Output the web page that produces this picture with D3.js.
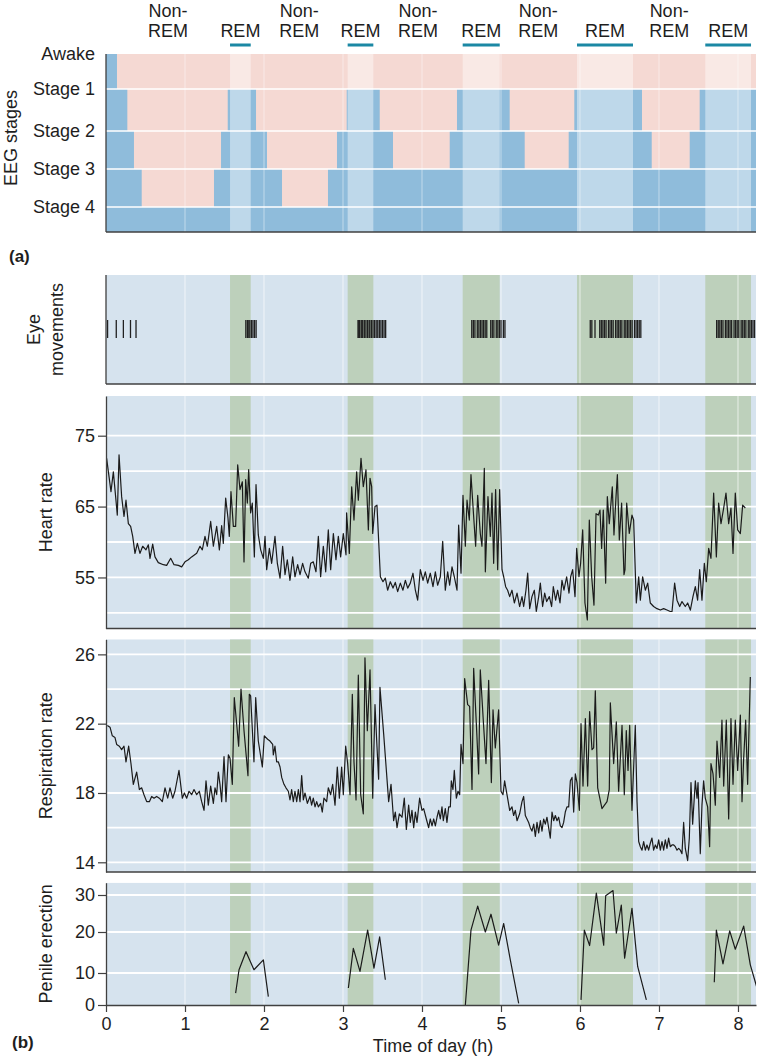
<!DOCTYPE html>
<html><head><meta charset="utf-8">
<script src="https://cdn.jsdelivr.net/npm/d3@7"></script>
<style>
body{margin:0;background:#fff}
svg{display:block}
text{font-family:"Liberation Sans",Arial,Helvetica,sans-serif;fill:#1e1e1e}
</style>
</head><body>
<svg id="c" width="757" height="1057"></svg>
<script>
// ---------------- DATA ----------------
const hourTicks = [0,1,2,3,4,5,6,7,8];
const timeEnd = 8.228;
const stageLabels = ["Awake","Stage 1","Stage 2","Stage 3","Stage 4"];
// [start hour, stage index] (0 = Awake ... 4 = Stage 4)
const hypnogram = [[0,0],[0.139,1],[0.270,2],[0.354,3],[0.452,4],[1.367,3],[1.456,2],[1.541,1],[1.899,2],[2.038,3],[2.228,4],[2.810,3],[2.924,2],[3.047,1],[3.465,2],[3.633,3],[4.351,2],[4.443,1],[5.110,2],[5.300,3],[5.857,2],[5.928,1],[6.785,2],[6.908,3],[7.389,2],[7.515,1]];
const remPeriods = [[1.570,1.832],[3.059,3.384],[4.515,4.984],[5.962,6.671],[7.586,8.165]];
const eyeMovements = [0.02,0.13,0.22,0.31,0.38,
 1.77,1.79,1.80,1.82,1.84,1.86,1.88,1.90,
 3.19,3.20,3.21,3.23,3.24,3.25,3.27,3.29,3.31,3.33,3.34,3.36,3.38,3.40,3.42,3.44,3.46,3.48,3.50,3.52,3.54,
 4.63,4.65,4.67,4.70,4.72,4.74,4.76,4.78,4.80,4.82,4.87,4.89,4.91,4.94,4.96,4.98,5.00,5.03,5.05,
 6.13,6.15,6.19,6.25,6.27,6.29,6.31,6.33,6.36,6.38,6.40,6.42,6.45,6.47,6.49,6.51,6.53,6.56,6.58,6.60,6.62,6.64,6.66,6.69,6.71,6.73,6.75,6.77,
 7.73,7.75,7.77,7.79,7.81,7.84,7.86,7.88,7.90,7.92,7.95,7.97,7.99,8.01,8.04,8.06,8.08,8.10,8.13,8.15,8.17,8.19,8.21];
const heartRate = [[0.008,71.8],[0.063,67.1],[0.093,69.9],[0.122,66.4],[0.143,63.8],[0.165,72.3],[0.198,66.4],[0.228,63.6],[0.253,65.9],[0.283,62.6],[0.312,62.2],[0.338,60.8],[0.367,58.4],[0.397,59.8],[0.430,58.4],[0.464,59.4],[0.506,58.9],[0.536,59.6],[0.557,57.7],[0.591,59.7],[0.620,57.9],[0.662,57.1],[0.726,56.8],[0.768,56.7],[0.819,57.7],[0.861,56.8],[0.916,56.7],[0.958,56.5],[1.000,57.2],[1.042,57.5],[1.084,57.9],[1.148,58.4],[1.190,59.4],[1.219,58.9],[1.253,60.8],[1.283,59.4],[1.325,62.9],[1.359,59.4],[1.401,62.2],[1.435,58.9],[1.464,62.3],[1.485,59.8],[1.515,66.2],[1.544,63.4],[1.561,60.8],[1.582,67.1],[1.612,62.2],[1.641,62.2],[1.667,70.9],[1.696,67.4],[1.726,68.5],[1.747,57.2],[1.768,68.8],[1.789,65.5],[1.806,70.2],[1.831,64.1],[1.852,65.5],[1.878,57.9],[1.899,68.1],[1.928,61.0],[1.958,58.9],[1.992,57.7],[2.013,60.8],[2.034,56.1],[2.068,59.1],[2.097,57.0],[2.139,60.8],[2.169,57.0],[2.203,54.9],[2.236,59.4],[2.266,55.4],[2.295,57.5],[2.329,54.6],[2.363,57.9],[2.392,55.1],[2.426,56.8],[2.456,55.4],[2.489,57.0],[2.519,55.8],[2.561,54.9],[2.591,57.0],[2.624,57.2],[2.658,55.8],[2.688,60.8],[2.717,55.1],[2.751,59.4],[2.781,55.8],[2.814,61.7],[2.844,56.1],[2.878,61.2],[2.911,57.5],[2.941,60.8],[2.970,57.9],[3.004,61.2],[3.038,58.2],[3.046,64.1],[3.080,58.4],[3.110,67.8],[3.139,63.1],[3.173,69.9],[3.194,65.9],[3.228,71.8],[3.257,67.8],[3.291,70.2],[3.321,61.7],[3.342,69.0],[3.363,67.8],[3.376,61.2],[3.405,65.0],[3.430,65.2],[3.473,55.1],[3.506,54.4],[3.536,54.9],[3.565,53.2],[3.599,54.4],[3.633,53.5],[3.662,54.3],[3.692,53.0],[3.726,54.2],[3.759,53.2],[3.789,54.6],[3.819,53.5],[3.852,54.2],[3.886,55.6],[3.916,53.2],[3.945,51.8],[3.979,56.1],[4.013,54.6],[4.042,55.8],[4.072,54.2],[4.105,55.6],[4.139,53.7],[4.169,55.8],[4.198,53.9],[4.232,55.1],[4.262,60.1],[4.295,53.2],[4.325,55.8],[4.350,53.9],[4.380,56.5],[4.409,55.1],[4.443,53.2],[4.464,62.4],[4.494,55.6],[4.519,66.6],[4.549,59.4],[4.570,65.9],[4.599,63.1],[4.620,69.5],[4.654,63.6],[4.679,59.4],[4.705,66.6],[4.738,61.2],[4.759,59.4],[4.789,70.4],[4.802,55.8],[4.835,66.4],[4.865,60.8],[4.886,66.9],[4.907,57.0],[4.932,67.4],[4.958,56.1],[4.983,67.4],[5.013,56.1],[5.034,55.1],[5.059,53.7],[5.084,53.2],[5.110,52.3],[5.139,53.2],[5.169,51.4],[5.203,52.8],[5.236,50.9],[5.266,52.3],[5.287,50.9],[5.316,53.2],[5.338,55.6],[5.363,50.6],[5.392,52.3],[5.422,53.2],[5.447,50.2],[5.477,52.3],[5.498,54.2],[5.527,50.9],[5.553,52.8],[5.578,51.6],[5.612,52.3],[5.641,50.9],[5.662,53.7],[5.692,51.8],[5.717,53.2],[5.747,51.4],[5.772,54.6],[5.797,53.2],[5.831,55.1],[5.861,52.8],[5.882,55.1],[5.907,56.1],[5.937,52.3],[5.958,59.1],[5.987,55.1],[6.008,57.0],[6.034,61.7],[6.063,51.4],[6.093,49.0],[6.118,63.1],[6.148,55.1],[6.177,51.1],[6.203,64.0],[6.232,63.8],[6.253,64.5],[6.274,59.1],[6.295,64.5],[6.325,54.2],[6.346,66.4],[6.371,62.6],[6.409,67.8],[6.430,61.0],[6.456,66.4],[6.473,69.5],[6.498,60.3],[6.527,65.5],[6.557,55.4],[6.570,56.1],[6.591,65.5],[6.624,61.2],[6.658,63.8],[6.679,63.1],[6.713,51.4],[6.743,55.1],[6.764,51.8],[6.793,55.1],[6.827,53.2],[6.857,54.2],[6.890,51.4],[6.932,50.9],[6.975,50.6],[7.017,50.4],[7.059,50.6],[7.101,50.4],[7.143,50.2],[7.165,50.2],[7.198,54.2],[7.228,51.8],[7.262,50.9],[7.291,51.6],[7.333,50.9],[7.363,51.4],[7.397,50.4],[7.430,52.3],[7.460,53.7],[7.489,51.8],[7.515,56.1],[7.544,51.8],[7.574,57.0],[7.599,54.4],[7.629,59.1],[7.658,57.7],[7.692,66.9],[7.726,57.9],[7.755,65.5],[7.785,62.6],[7.819,64.8],[7.848,66.9],[7.882,62.6],[7.911,64.8],[7.937,58.4],[7.966,66.9],[7.996,61.7],[8.030,61.2],[8.059,65.2],[8.093,64.8]];
const respiration = [[0.017,21.9],[0.051,21.8],[0.080,21.3],[0.114,21.2],[0.135,20.8],[0.169,20.7],[0.198,20.5],[0.228,20.7],[0.253,19.8],[0.287,20.7],[0.316,19.7],[0.346,18.5],[0.388,19.2],[0.422,18.2],[0.451,18.3],[0.481,17.9],[0.515,17.5],[0.549,17.5],[0.578,17.8],[0.608,17.7],[0.641,17.8],[0.675,17.7],[0.713,17.5],[0.747,18.3],[0.781,17.7],[0.810,18.3],[0.844,17.7],[0.873,18.1],[0.924,19.3],[0.966,17.7],[0.992,18.0],[1.021,17.7],[1.051,18.1],[1.084,17.9],[1.114,18.2],[1.148,17.9],[1.181,18.1],[1.211,17.5],[1.241,17.0],[1.266,18.7],[1.295,17.3],[1.325,18.4],[1.359,17.4],[1.380,18.3],[1.401,17.9],[1.422,19.2],[1.443,18.5],[1.464,17.5],[1.494,20.1],[1.519,17.5],[1.549,20.2],[1.570,20.0],[1.599,18.5],[1.624,23.5],[1.654,22.0],[1.679,20.7],[1.709,24.0],[1.747,21.6],[1.797,19.0],[1.814,23.7],[1.831,23.6],[1.873,19.8],[1.895,23.5],[1.928,21.0],[1.979,19.5],[2.004,21.3],[2.046,21.1],[2.076,21.0],[2.110,20.8],[2.118,20.2],[2.139,20.7],[2.160,19.8],[2.181,19.8],[2.203,19.5],[2.224,18.9],[2.253,18.5],[2.278,18.3],[2.308,18.1],[2.329,17.6],[2.350,18.2],[2.371,17.5],[2.392,18.1],[2.414,17.5],[2.435,18.2],[2.456,17.5],[2.477,19.0],[2.498,17.6],[2.519,18.0],[2.549,17.4],[2.582,17.8],[2.603,17.3],[2.624,17.7],[2.646,17.2],[2.667,17.5],[2.688,17.2],[2.717,17.4],[2.738,16.9],[2.759,17.7],[2.793,17.5],[2.814,18.3],[2.844,17.9],[2.869,18.5],[2.899,17.3],[2.928,19.5],[2.954,17.7],[2.983,19.5],[3.004,17.9],[3.034,20.7],[3.059,19.7],[3.089,17.9],[3.118,23.7],[3.139,19.8],[3.165,17.6],[3.194,24.8],[3.224,17.9],[3.257,16.8],[3.278,25.8],[3.308,21.6],[3.342,25.1],[3.376,17.7],[3.405,23.1],[3.430,20.7],[3.451,18.8],[3.468,24.1],[3.515,21.4],[3.549,19.3],[3.578,17.5],[3.608,18.5],[3.641,16.4],[3.662,16.9],[3.684,16.0],[3.713,16.8],[3.747,16.6],[3.776,17.7],[3.802,15.9],[3.831,17.3],[3.852,16.3],[3.873,17.0],[3.895,16.0],[3.916,16.9],[3.937,16.3],[3.970,17.7],[4.000,17.0],[4.021,17.1],[4.055,16.5],[4.084,16.0],[4.105,16.5],[4.127,16.1],[4.148,16.5],[4.169,16.1],[4.190,16.6],[4.211,17.0],[4.232,16.5],[4.253,17.2],[4.270,16.4],[4.295,17.1],[4.316,16.3],[4.338,17.2],[4.359,17.2],[4.371,18.7],[4.392,18.2],[4.409,19.3],[4.435,17.7],[4.456,18.1],[4.477,17.9],[4.494,20.8],[4.519,19.7],[4.540,24.6],[4.578,23.1],[4.603,23.0],[4.633,18.2],[4.654,25.2],[4.688,22.0],[4.717,19.1],[4.738,25.1],[4.781,21.8],[4.810,19.7],[4.844,24.5],[4.878,18.6],[4.899,22.8],[4.928,20.6],[4.970,22.8],[5.000,18.1],[5.025,17.9],[5.046,18.7],[5.076,17.9],[5.110,17.0],[5.139,17.2],[5.160,16.7],[5.181,17.0],[5.203,16.4],[5.236,16.8],[5.266,17.5],[5.287,17.8],[5.308,16.7],[5.329,16.5],[5.350,16.3],[5.371,16.0],[5.392,15.8],[5.414,16.2],[5.435,15.5],[5.456,16.3],[5.477,15.7],[5.498,16.4],[5.519,15.8],[5.540,16.5],[5.561,16.2],[5.582,16.6],[5.603,16.0],[5.624,15.4],[5.646,16.9],[5.667,16.4],[5.688,16.7],[5.709,16.4],[5.730,16.6],[5.751,16.1],[5.772,16.0],[5.793,16.3],[5.814,16.9],[5.835,17.2],[5.857,17.2],[5.878,18.7],[5.899,18.9],[5.920,16.9],[5.941,19.1],[5.962,18.6],[5.992,17.0],[6.013,22.0],[6.038,18.4],[6.068,22.3],[6.097,18.4],[6.122,22.7],[6.152,20.5],[6.173,20.6],[6.194,23.9],[6.224,18.3],[6.278,17.1],[6.342,17.5],[6.371,18.2],[6.384,23.2],[6.426,19.7],[6.460,22.1],[6.489,18.1],[6.532,21.9],[6.561,17.9],[6.586,21.6],[6.608,19.3],[6.629,21.9],[6.658,17.0],[6.700,21.9],[6.722,17.5],[6.743,15.2],[6.764,14.9],[6.785,14.7],[6.806,15.2],[6.827,14.7],[6.848,15.0],[6.869,14.7],[6.890,15.1],[6.911,15.4],[6.932,14.7],[6.954,15.0],[6.975,14.8],[6.996,15.3],[7.017,14.7],[7.038,15.2],[7.059,14.7],[7.080,15.3],[7.101,14.8],[7.122,15.4],[7.143,14.9],[7.165,15.0],[7.186,15.0],[7.207,14.9],[7.228,14.7],[7.249,14.8],[7.270,14.7],[7.291,14.5],[7.312,16.3],[7.333,14.8],[7.363,14.1],[7.384,15.4],[7.405,18.6],[7.426,16.2],[7.460,18.7],[7.481,17.7],[7.494,18.6],[7.523,14.5],[7.544,17.3],[7.565,18.7],[7.586,17.7],[7.616,17.2],[7.641,14.9],[7.658,19.7],[7.684,19.1],[7.713,17.3],[7.734,21.0],[7.768,18.9],[7.797,22.2],[7.819,18.4],[7.852,22.2],[7.882,16.5],[7.911,22.3],[7.937,18.5],[7.966,22.2],[7.996,19.3],[8.030,22.5],[8.051,17.5],[8.072,20.0],[8.097,22.2],[8.122,18.5],[8.156,24.7]];
// null value = gap between episodes
const penileErection = [[1.641,3.7],[1.684,10.8],[1.772,15.2],[1.873,10.8],[1.992,13.2],[2.055,2.6],[2.1,null],
 [3.068,5.3],[3.131,16.0],[3.215,10.4],[3.312,20.5],[3.392,11.2],[3.464,18.8],[3.536,7.9],[3.6,null],
 [4.549,0],[4.620,20.5],[4.705,27.0],[4.802,20.0],[4.873,24.8],[4.970,16.8],[5.034,22.3],[5.118,13.2],[5.224,0.5],[5.3,null],
 [6.013,1.6],[6.055,20.5],[6.122,16.7],[6.207,30.5],[6.300,16.8],[6.325,29.8],[6.418,31.2],[6.460,19.7],[6.523,27.3],[6.565,13.6],[6.658,26.4],[6.730,11.6],[6.840,1.6],[6.9,null],
 [7.700,7.1],[7.726,20.5],[7.810,12.2],[7.895,20.3],[7.966,15.8],[8.072,21.6],[8.156,12.0],[8.241,5.3]];
const hrTicks=[55,65,75], hrGrid=[50,55,60,65,70,75];
const rrTicks=[14,18,22,26], rrGrid=[14,16,18,20,22,24,26];
const peTicks=[0,10,20,30], peGrid=[10,20,30];

// ---------------- LAYOUT ----------------
const L = 106, R = 756;
const P = {hyp:{t:54,b:232}, eye:{t:275,b:384}, hr:{t:396,b:628.5}, rr:{t:639.3,b:872}, pe:{t:882.7,b:1005}};
const C = {pink:"#f5d9d3", blue:"#8fbcdb", bg:"#d6e3ee", green:"#bdd0bb", teal:"#1b88a4", ink:"#1b1b1b", axis:"#404040"};
const FS = 18;

const svg = d3.select("#c");
const x = d3.scaleLinear().domain([0,timeEnd]).range([L,R]);

function clip(id, p){
  svg.append("clipPath").attr("id",id).append("rect")
    .attr("x",L).attr("y",p.t).attr("width",R-L).attr("height",p.b-p.t);
  return "url(#"+id+")";
}

// ---------- (a) Hypnogram ----------
const yS = d3.scaleLinear().domain([0,1,2,3,4]).range([54,89,131,169,207]);
const gH = svg.append("g").attr("clip-path", clip("cH", P.hyp));
gH.append("rect").attr("x",L).attr("y",P.hyp.t).attr("width",R-L).attr("height",P.hyp.b-P.hyp.t).attr("fill",C.pink);
const hypData = hypnogram.concat([[timeEnd, hypnogram[hypnogram.length-1][1]]]);
gH.append("path").datum(hypData)
  .attr("d", d3.area().curve(d3.curveStepAfter).x(d=>x(d[0])).y0(P.hyp.b).y1(d=>yS(d[1])))
  .attr("fill", C.blue);
gH.selectAll("rect.rem").data(remPeriods).join("rect").attr("class","rem")
  .attr("x",d=>x(d[0])).attr("width",d=>x(d[1])-x(d[0]))
  .attr("y",P.hyp.t).attr("height",P.hyp.b-P.hyp.t)
  .attr("fill","#fff").attr("opacity",0.42);
gH.selectAll("line.vh").data(hourTicks.slice(1)).join("line").attr("class","vh")
  .attr("x1",d=>x(d)).attr("x2",d=>x(d)).attr("y1",P.hyp.t).attr("y2",P.hyp.b)
  .attr("stroke","#fff").attr("stroke-opacity",0.35).attr("stroke-width",1.3);
gH.selectAll("line.hh").data([1,2,3,4]).join("line").attr("class","hh")
  .attr("x1",L).attr("x2",R).attr("y1",d=>yS(d)).attr("y2",d=>yS(d))
  .attr("stroke","#fff").attr("stroke-width",1.6);
svg.append("line").attr("x1",L).attr("x2",L).attr("y1",P.hyp.t).attr("y2",P.hyp.b).attr("stroke",C.axis).attr("stroke-width",1.3);
svg.append("line").attr("x1",L).attr("x2",R).attr("y1",P.hyp.b).attr("y2",P.hyp.b).attr("stroke",C.axis).attr("stroke-width",1.3);
svg.selectAll("text.stage").data(stageLabels).join("text").attr("class","stage")
  .attr("x",95).attr("y",(d,i)=>yS(i)).attr("dy","0.36em").attr("text-anchor","end")
  .attr("font-size",FS).text(d=>d);
svg.append("text").attr("transform","translate(16.5,138) rotate(-90)").attr("text-anchor","middle")
  .attr("font-size",FS).text("EEG stages");

// header: REM / Non-REM
svg.selectAll("rect.teal").data(remPeriods).join("rect").attr("class","teal")
  .attr("x",d=>x(d[0])).attr("width",d=>x(d[1])-x(d[0])).attr("y",43.5).attr("height",3)
  .attr("fill",C.teal);
svg.selectAll("text.remlab").data(remPeriods).join("text").attr("class","remlab")
  .attr("x",d=>x((d[0]+d[1])/2)).attr("y",36.5).attr("text-anchor","middle").attr("font-size",FS).text("REM");
const nremCenters = remPeriods.map((d,i)=> ((i===0?0:remPeriods[i-1][1]) + d[0])/2 );
const nl = svg.selectAll("text.nrem").data(nremCenters).join("text").attr("class","nrem")
  .attr("text-anchor","middle").attr("font-size",FS);
nl.append("tspan").attr("x",d=>x(d)).attr("y",16.5).text("Non-");
nl.append("tspan").attr("x",d=>x(d)).attr("y",36.5).text("REM");
svg.append("text").attr("x",9).attr("y",262).attr("font-size",17).attr("font-weight","bold").text("(a)");

// ---------- (b) common panel background ----------
function panelBg(key){
  const p = P[key];
  const g = svg.append("g").attr("clip-path", clip("c"+key, p));
  g.append("rect").attr("x",L).attr("y",p.t).attr("width",R-L).attr("height",p.b-p.t).attr("fill",C.bg);
  g.selectAll("rect.g").data(remPeriods).join("rect").attr("class","g")
    .attr("x",d=>x(d[0])).attr("width",d=>x(d[1])-x(d[0])).attr("y",p.t).attr("height",p.b-p.t).attr("fill",C.green);
  g.selectAll("line.v").data(hourTicks.slice(1)).join("line").attr("class","v")
    .attr("x1",d=>x(d)).attr("x2",d=>x(d)).attr("y1",p.t).attr("y2",p.b)
    .attr("stroke","#fff").attr("stroke-opacity",0.45).attr("stroke-width",1.5);
  return g;
}
function hGrid(g, y, vals){
  g.selectAll("line.h").data(vals).join("line").attr("class","h")
    .attr("x1",L).attr("x2",R).attr("y1",d=>y(d)).attr("y2",d=>y(d))
    .attr("stroke","#fff").attr("stroke-width",1.8);
}
function frame(p){
  svg.append("line").attr("x1",L).attr("x2",R).attr("y1",p.b).attr("y2",p.b).attr("stroke",C.axis).attr("stroke-width",1.3);
}
function yAxis(y, ticks){
  const a = svg.append("g").attr("transform",`translate(${L},0)`)
    .call(d3.axisLeft(y).tickValues(ticks).tickSize(8).tickSizeOuter(0).tickPadding(3));
  a.select(".domain").attr("stroke",C.axis).attr("stroke-width",1.3);
  a.selectAll(".tick line").attr("stroke",C.axis).attr("stroke-width",1.2);
  a.selectAll(".tick text").attr("font-size",FS).attr("font-family","Liberation Sans, Arial, sans-serif").attr("fill","#1e1e1e");
  return a;
}
function yTitle(lines, p, xs){
  const cy = (p.t+p.b)/2;
  lines.forEach((s,i)=>{
    svg.append("text").attr("transform",`translate(${xs[i]},${cy}) rotate(-90)`).attr("text-anchor","middle")
      .attr("font-size",FS).text(s);
  });
}
const lineGen = (y)=> d3.line().defined(d=>d[1]!==null).x(d=>x(d[0])).y(d=>y(d[1]));

// Eye movements
const gE = panelBg("eye");
gE.selectAll("line.em").data(eyeMovements).join("line").attr("class","em")
  .attr("x1",d=>x(d)).attr("x2",d=>x(d)).attr("y1",320).attr("y2",338)
  .attr("stroke","#202020").attr("stroke-width",1.3);
frame(P.eye);
svg.append("line").attr("x1",L).attr("x2",L).attr("y1",P.eye.t).attr("y2",P.eye.b).attr("stroke",C.axis).attr("stroke-width",1.3);
yTitle(["Eye","movements"], P.eye, [39.5,63]);

// Heart rate
const yHR = d3.scaleLinear().domain([47.8,80.6]).range([P.hr.b,P.hr.t]);
const gHR = panelBg("hr");
hGrid(gHR, yHR, hrGrid);
gHR.append("path").datum(heartRate).attr("d",lineGen(yHR)).attr("fill","none").attr("stroke",C.ink).attr("stroke-width",1.2).attr("stroke-linejoin","round");
frame(P.hr); yAxis(yHR, hrTicks);
yTitle(["Heart rate"], P.hr, [52]);

// Respiration
const yRR = d3.scaleLinear().domain([13.44,26.87]).range([P.rr.b,P.rr.t]);
const gRR = panelBg("rr");
hGrid(gRR, yRR, rrGrid);
gRR.append("path").datum(respiration).attr("d",lineGen(yRR)).attr("fill","none").attr("stroke",C.ink).attr("stroke-width",1.2).attr("stroke-linejoin","round");
frame(P.rr); yAxis(yRR, rrTicks);
yTitle(["Respiration rate"], P.rr, [52]);

// Penile erection
const yPE = d3.scaleLinear().domain([0,10,20,30,33.3]).range([1005,973,932,895,P.pe.t]);
const gPE = panelBg("pe");
hGrid(gPE, yPE, peGrid);
gPE.append("path").datum(penileErection).attr("d",lineGen(yPE)).attr("fill","none").attr("stroke",C.ink).attr("stroke-width",1.2).attr("stroke-linejoin","round");
yAxis(yPE, peTicks);
yTitle(["Penile erection"], P.pe, [52]);
const xa = svg.append("g").attr("transform",`translate(0,${P.pe.b})`)
  .call(d3.axisBottom(x).tickValues(hourTicks).tickFormat(d3.format("d")).tickSize(7).tickSizeOuter(0).tickPadding(5));
xa.select(".domain").attr("stroke",C.axis).attr("stroke-width",1.3);
xa.selectAll(".tick line").attr("stroke",C.axis).attr("stroke-width",1.2);
xa.selectAll(".tick text").attr("font-size",FS).attr("font-family","Liberation Sans, Arial, sans-serif").attr("fill","#1e1e1e");
svg.append("text").attr("x",(L+R)/2+2).attr("y",1052).attr("text-anchor","middle").attr("font-size",FS).text("Time of day (h)");
svg.append("text").attr("x",12).attr("y",1048).attr("font-size",17).attr("font-weight","bold").text("(b)");
</script>
</body></html>
